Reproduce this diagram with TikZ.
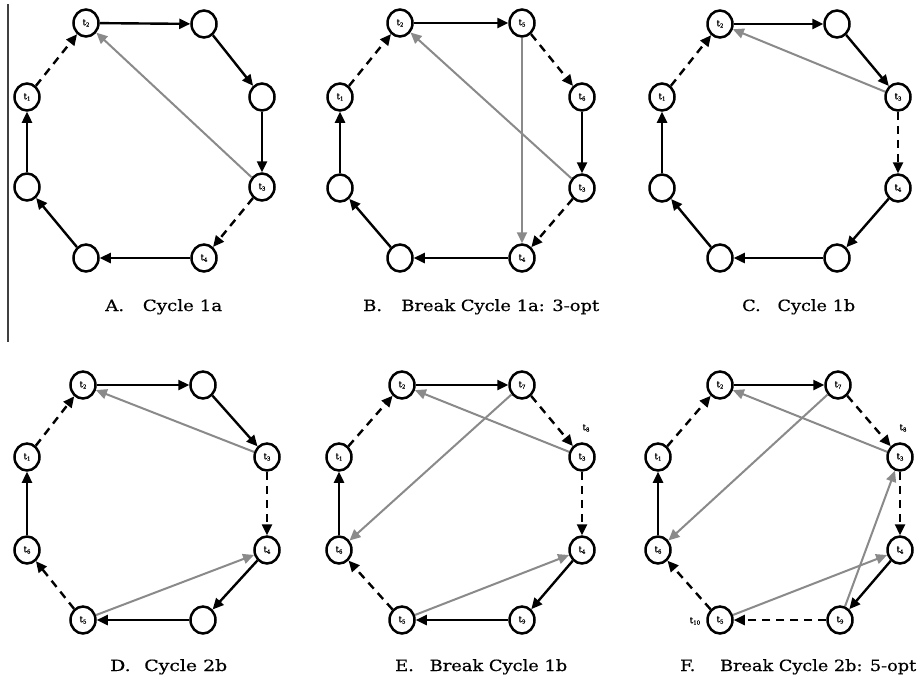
\documentclass[tikz,border=0pt]{standalone}
\usepackage{fontspec}
\usepackage{graphicx}
\setmainfont{DejaVu Serif}
\newfontfamily\capfont[FakeBold=0.5]{DejaVu Serif}
\newfontfamily\idxfont[FakeBold=0.8]{DejaVu Serif}
\usetikzlibrary{arrows.meta,shapes.geometric}

% city label: small t with a lowered index
\newcommand{\tl}[1]{{\idxfont\fontsize{8.5}{8.5}\selectfont t\raisebox{-1.4pt}{\fontsize{5.5}{5.5}\selectfont #1}}}
% caption: letter, gap, title, stretched to a given overall width
\newcommand{\captext}[4]{\resizebox{#1}{\height}{\makebox[#2][l]{#3}#4}}
\definecolor{swapgray}{HTML}{8A8A8A}

\begin{document}
\begin{tikzpicture}[x=1pt,y=-1pt,
  city/.style={draw, line width=2.5pt, ellipse, minimum width=25pt, minimum height=27pt, inner sep=0pt, fill=white},
  tour/.style={line width=2.4pt, -{Triangle[length=11pt,width=10pt]}},
  cut/.style={tour, dash pattern=on 8pt off 6pt},
  swap/.style={line width=2pt, draw=swapgray, -{Triangle[length=11pt,width=10pt]}, fill=swapgray},
  panelcaption/.style={anchor=base west, inner sep=0pt, font=\capfont\fontsize{15.5}{15.5}\selectfont},
  extra/.style={inner sep=0pt}
]
\fill[white] (0,0) rectangle (920,678);
\useasboundingbox (0,0) rectangle (920,678);

% left margin rule
\coordinate (ruletop) at (8,4);
\coordinate (rulebot) at (8,342);
\draw[line width=1.4pt, black!75] (ruletop) -- (rulebot);

% ---------------- A: Cycle 1a ----------------
\node[city] (a1) at (27,97)  {\tl1};
\node[city] (a2) at (86,23)  {\tl2};
\node[city] (a3) at (204,24) {};
\node[city] (a4) at (262,97) {};
\node[city] (a5) at (262,187) {\tl3};
\node[city] (a6) at (204,258) {\tl4};
\node[city] (a7) at (86,258) {};
\node[city] (a8) at (27,187) {};
\draw[cut]  (a1) -- (a2);
\draw[tour] (a2) -- (a3);
\draw[tour] (a3) -- (a4);
\draw[tour] (a4) -- (a5);
\draw[cut]  (a5) -- (a6);
\draw[tour] (a6) -- (a7);
\draw[tour] (a7) -- (a8);
\draw[tour] (a8) -- (a1);
\draw[swap] (a5) -- (a2);
\node[panelcaption] (capA) at (105,311) {\captext{117pt}{32pt}{A.}{Cycle 1a}};

% ---------------- B: Break Cycle 1a: 3-opt ----------------
\node[city] (b1) at (340,97)  {\tl1};
\node[city] (b2) at (400,23)  {\tl2};
\node[city] (b3) at (522,23)  {\tl5};
\node[city] (b4) at (582,97)  {\tl6};
\node[city] (b5) at (582,188) {\tl3};
\node[city] (b6) at (522,258) {\tl4};
\node[city] (b7) at (400,258) {};
\node[city] (b8) at (340,188) {};
\draw[cut]  (b1) -- (b2);
\draw[tour] (b2) -- (b3);
\draw[cut]  (b3) -- (b4);
\draw[tour] (b4) -- (b5);
\draw[cut]  (b5) -- (b6);
\draw[tour] (b6) -- (b7);
\draw[tour] (b7) -- (b8);
\draw[tour] (b8) -- (b1);
\draw[swap] (b5) -- (b2);
\draw[swap] (b3) -- (b6);
\node[panelcaption] (capB) at (363,311) {\captext{236pt}{33pt}{B.}{Break Cycle 1a: 3-opt}};

% ---------------- C: Cycle 1b ----------------
\node[city] (c1) at (662,97)  {\tl1};
\node[city] (c2) at (720,24)  {\tl2};
\node[city] (c3) at (837,24)  {};
\node[city] (c4) at (898,97)  {\tl3};
\node[city] (c5) at (898,188) {\tl4};
\node[city] (c6) at (837,258) {};
\node[city] (c7) at (720,258) {};
\node[city] (c8) at (662,188) {};
\draw[cut]  (c1) -- (c2);
\draw[tour] (c2) -- (c3);
\draw[tour] (c3) -- (c4);
\draw[cut]  (c4) -- (c5);
\draw[tour] (c5) -- (c6);
\draw[tour] (c6) -- (c7);
\draw[tour] (c7) -- (c8);
\draw[tour] (c8) -- (c1);
\draw[swap] (c4) -- (c2);
\node[panelcaption] (capC) at (742,311) {\captext{113pt}{31pt}{C.}{Cycle 1b}};

% ---------------- D: Cycle 2b ----------------
\node[city] (d1) at (27,457)  {\tl1};
\node[city] (d2) at (83,385)  {\tl2};
\node[city] (d3) at (203,385) {};
\node[city] (d4) at (267,457) {\tl3};
\node[city] (d5) at (267,550) {\tl4};
\node[city] (d6) at (203,620) {};
\node[city] (d7) at (83,620)  {\tl5};
\node[city] (d8) at (27,550)  {\tl6};
\draw[cut]  (d1) -- (d2);
\draw[tour] (d2) -- (d3);
\draw[tour] (d3) -- (d4);
\draw[cut]  (d4) -- (d5);
\draw[tour] (d5) -- (d6);
\draw[tour] (d6) -- (d7);
\draw[cut]  (d7) -- (d8);
\draw[tour] (d8) -- (d1);
\draw[swap] (d4) -- (d2);
\draw[swap] (d7) -- (d5);
\node[panelcaption] (capD) at (110,671) {\captext{117pt}{28pt}{D.}{Cycle 2b}};

% ---------------- E: Break Cycle 1b ----------------
\node[city] (e1) at (339,457) {\tl1};
\node[city] (e2) at (402,385) {\tl2};
\node[city] (e3) at (522,385) {\tl7};
\node[city] (e4) at (582,457) {\tl3};
\node[city] (e5) at (582,550) {\tl4};
\node[city] (e6) at (522,620) {\tl9};
\node[city] (e7) at (402,620) {\tl5};
\node[city] (e8) at (339,550) {\tl6};
\draw[cut]  (e1) -- (e2);
\draw[tour] (e2) -- (e3);
\draw[cut]  (e3) -- (e4);
\draw[cut]  (e4) -- (e5);
\draw[tour] (e5) -- (e6);
\draw[tour] (e6) -- (e7);
\draw[cut]  (e7) -- (e8);
\draw[tour] (e8) -- (e1);
\draw[swap] (e4) -- (e2);
\draw[swap] (e7) -- (e5);
\draw[swap] (e3) -- (e8);
\node[extra] (e4x) at (586,428) {\tl8};
\node[panelcaption] (capE) at (395,671) {\captext{172pt}{30pt}{E.}{Break Cycle 1b}};

% ---------------- F: Break Cycle 2b: 5-opt ----------------
\node[city] (f1) at (658,457) {\tl1};
\node[city] (f2) at (720,385) {\tl2};
\node[city] (f3) at (838,385) {\tl7};
\node[city] (f4) at (900,457) {\tl3};
\node[city] (f5) at (900,550) {\tl4};
\node[city] (f6) at (840,620) {\tl9};
\node[city] (f7) at (720,620) {\tl5};
\node[city] (f8) at (658,550) {\tl6};
\draw[cut]  (f1) -- (f2);
\draw[tour] (f2) -- (f3);
\draw[cut]  (f3) -- (f4);
\draw[cut]  (f4) -- (f5);
\draw[tour] (f5) -- (f6);
\draw[cut]  (f6) -- (f7);
\draw[cut]  (f7) -- (f8);
\draw[tour] (f8) -- (f1);
\draw[swap] (f4) -- (f2);
\draw[swap] (f3) -- (f8);
\draw[swap] (f7) -- (f5);
\draw[swap] (f6) -- (f4);
\node[extra] (f4x) at (903,428) {\tl8};
\node[extra] (f7x) at (695,621) {\tl{10}};
\node[panelcaption] (capF) at (680,671) {\captext{236pt}{35pt}{F.}{Break Cycle 2b: 5-opt}};
\end{tikzpicture}
\end{document}
